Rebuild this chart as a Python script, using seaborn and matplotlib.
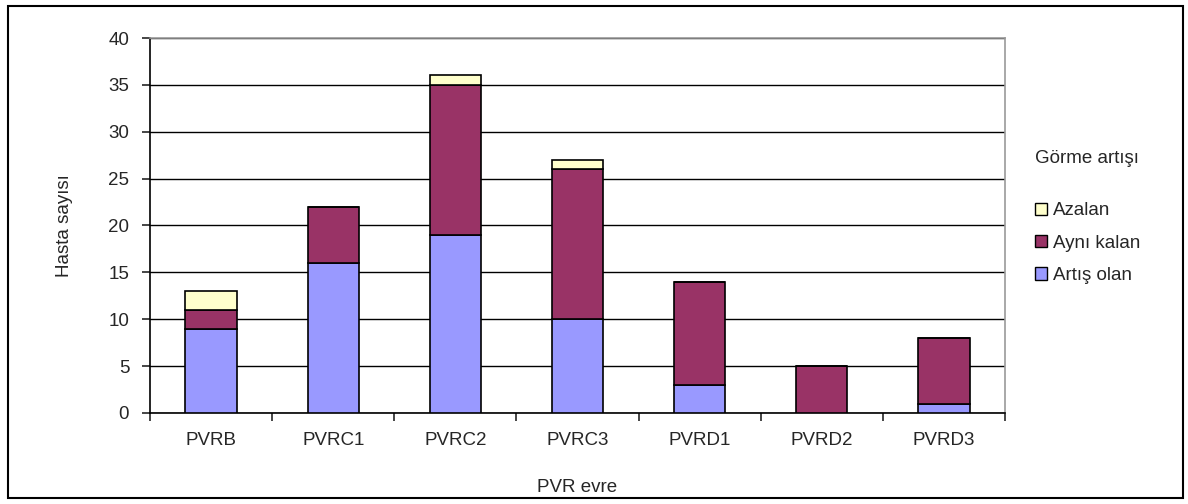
import numpy as np
import pandas as pd
import matplotlib
matplotlib.use("Agg")
import matplotlib.pyplot as plt
import seaborn as sns
from matplotlib.patches import Patch, Rectangle

stages = ["PVRB", "PVRC1", "PVRC2", "PVRC3", "PVRD1", "PVRD2", "PVRD3"]
artis_olan = [9, 16, 19, 10, 3, 0, 1]
ayni_kalan = [2, 6, 16, 16, 11, 5, 7]
azalan = [2, 0, 1, 1, 0, 0, 0]

series_names = ["Artış olan", "Aynı kalan", "Azalan"]
series_colors = ["#9999FF", "#993366", "#FFFFCC"]

sns.set_style("white")
plt.rcParams["font.family"] = ["Liberation Sans", "DejaVu Sans"]

fig = plt.figure(figsize=(11.88, 5.04), dpi=100)
ax = fig.add_axes([0.1263, 0.1806, 0.7197, 0.744])

df = pd.DataFrame({"stage": stages, "Artış olan": artis_olan,
                   "Aynı kalan": ayni_kalan, "Azalan": azalan})

# stack the three groups on top of each other
bottom = np.zeros(len(stages))
for name, col in zip(series_names, series_colors):
    vals = df[name].to_numpy(dtype=float)
    sns.barplot(x=df["stage"], y=vals, bottom=bottom, color=col, ax=ax,
                width=0.42, edgecolor="black", linewidth=1.2,
                saturation=1, errorbar=None, zorder=3)
    bottom = bottom + vals

ax.set_ylim(0, 40)
ax.set_xlim(-0.5, len(stages) - 0.5)
ax.set_yticks(np.arange(0, 41, 5))
ax.yaxis.grid(True, color="black", linewidth=1.0, zorder=0)
ax.set_axisbelow(True)

ax.spines["left"].set_color("black")
ax.spines["bottom"].set_color("black")
ax.spines["top"].set_color("#999999")
ax.spines["right"].set_color("#999999")
for s in ax.spines.values():
    s.set_linewidth(1.2)

fs = 13.5
ax.tick_params(axis="y", which="major", length=6, width=1.2, direction="out",
               labelsize=fs, left=True, pad=9)
ax.tick_params(axis="x", which="major", length=0, labelsize=fs, pad=14)
ax.set_xticks(np.arange(-0.5, len(stages), 1.0), minor=True)
ax.tick_params(axis="x", which="minor", length=6, width=1.2, direction="out",
               bottom=True)

ax.set_xlabel("PVR evre", fontsize=fs, labelpad=21)
ax.set_ylabel("Hasta sayısı", fontsize=fs, labelpad=25)

handles = [Patch(facecolor=c, edgecolor="black", linewidth=1.0, label=n)
           for n, c in zip(series_names, series_colors)][::-1]
leg = fig.legend(handles=handles, title="Görme artışı\n",
                 loc="upper left", bbox_to_anchor=(0.857, 0.735),
                 frameon=False, fontsize=fs, title_fontsize=fs,
                 handlelength=0.65, handleheight=0.65, handletextpad=0.3,
                 labelspacing=0.82)
leg._legend_box.align = "left"

fig.patches.append(Rectangle((0.007, 0.012), 0.989, 0.976, transform=fig.transFigure,
                             fill=False, edgecolor="black", linewidth=1.5))

fig.savefig("out.png", dpi=100)
